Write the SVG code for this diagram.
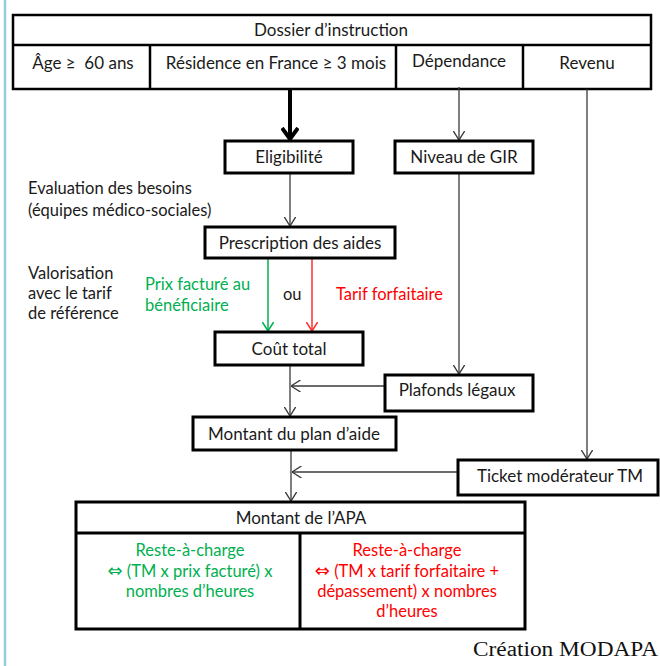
<svg xmlns="http://www.w3.org/2000/svg" width="660" height="666" viewBox="0 0 660 666">
<defs>
<style>
text{font-family:Lato,"Open Sans","Liberation Sans",sans-serif;font-size:16.5px;fill:#1a1a1a}
.b{font-size:17px}
.c{text-anchor:middle}
.g{fill:#00b050}
.r{fill:#ff0000}
.sym{font-family:"DejaVu Sans",sans-serif;font-size:18px}
.box{fill:#fff;stroke:#000;stroke-width:3}
.tbl{fill:none;stroke:#000;stroke-width:2.5}
.ln{fill:none;stroke:#3a3a3a;stroke-width:1.3}
.gl{fill:none;stroke:#00b050;stroke-width:1.5}
.rl{fill:none;stroke:#ff3030;stroke-width:1.5}
.serif{font-family:"Liberation Serif","DejaVu Serif",serif;font-size:20px;fill:#111}
</style>
<marker id="a" viewBox="0 0 10 12" refX="9.5" refY="6" markerWidth="10" markerHeight="12" markerUnits="userSpaceOnUse" orient="auto">
<path d="M0,0 L9.5,6 L0,12" fill="none" stroke="#3a3a3a" stroke-width="1.4"/>
</marker>
<marker id="ag" viewBox="0 0 10 12" refX="9.5" refY="6" markerWidth="10" markerHeight="12" markerUnits="userSpaceOnUse" orient="auto">
<path d="M0,0 L9.5,6 L0,12" fill="none" stroke="#00b050" stroke-width="1.5"/>
</marker>
<marker id="ar" viewBox="0 0 10 12" refX="9.5" refY="6" markerWidth="10" markerHeight="12" markerUnits="userSpaceOnUse" orient="auto">
<path d="M0,0 L9.5,6 L0,12" fill="none" stroke="#ff3030" stroke-width="1.5"/>
</marker>
<marker id="at" viewBox="0 0 14 18" refX="12" refY="9" markerWidth="14" markerHeight="18" markerUnits="userSpaceOnUse" orient="auto">
<path d="M1,1 L12,9 L1,17" fill="none" stroke="#000" stroke-width="4"/>
</marker>
</defs>
<rect width="660" height="666" fill="#fff"/>
<line x1="5" y1="0" x2="5" y2="666" stroke="#92cddc" stroke-width="2.5"/>

<g id="dossier">
<rect class="tbl" x="13" y="15" width="638" height="74" stroke-width="3"/>
<line class="tbl" x1="13" y1="45" x2="651" y2="45"/>
<line class="tbl" x1="150" y1="45" x2="150" y2="89"/>
<line class="tbl" x1="396" y1="45" x2="396" y2="89"/>
<line class="tbl" x1="523" y1="45" x2="523" y2="89"/>
<text class="c b" x="331" y="36">Dossier d’instruction</text>
<text class="c b" x="83" y="69">Âge ≥ &#160;60 ans</text>
<text class="c b" x="276" y="69">Résidence en France ≥ 3 mois</text>
<text class="c b" x="459" y="67">Dépendance</text>
<text class="c b" x="587" y="69">Revenu</text>
</g>

<g id="connectors">
<line x1="290" y1="89" x2="290" y2="139" stroke="#000" stroke-width="4" marker-end="url(#at)"/>
<line class="ln" x1="459" y1="87" x2="459" y2="140" marker-end="url(#a)"/>
<line class="ln" x1="587" y1="89" x2="587" y2="459" marker-end="url(#a)"/>
<line class="ln" x1="290" y1="173" x2="290" y2="226" marker-end="url(#a)"/>
<line class="gl" x1="268" y1="258" x2="268" y2="331" marker-end="url(#ag)"/>
<line class="rl" x1="312" y1="258" x2="312" y2="331" marker-end="url(#ar)"/>
<line class="ln" x1="459" y1="173" x2="459" y2="374" marker-end="url(#a)"/>
<line class="ln" x1="290" y1="365" x2="290" y2="416" marker-end="url(#a)"/>
<line class="ln" x1="385" y1="386" x2="291" y2="386" marker-end="url(#a)"/>
<line class="ln" x1="291" y1="450" x2="291" y2="501" marker-end="url(#a)"/>
<line class="ln" x1="458" y1="472" x2="292" y2="472" marker-end="url(#a)"/>
</g>

<g id="eligibilite">
<rect class="box" x="225" y="141" width="128" height="32"/>
<text class="c b" x="289" y="163">Eligibilité</text>
</g>
<g id="gir">
<rect class="box" x="395" y="141" width="138" height="32"/>
<text class="c b" x="464" y="163">Niveau de GIR</text>
</g>
<g id="evaluation">
<text x="28" y="194">Evaluation des besoins</text>
<text x="28" y="216">(équipes médico-sociales)</text>
</g>
<g id="prescription">
<rect class="box" x="205" y="227" width="190" height="31"/>
<text class="c b" x="300" y="249">Prescription des aides</text>
</g>
<g id="valorisation">
<text x="28" y="279">Valorisation</text>
<text x="28" y="299">avec le tarif</text>
<text x="28" y="319">de référence</text>
<text class="g" x="145" y="290">Prix facturé au</text>
<text class="g" x="145" y="311">bénéficiaire</text>
<text x="283" y="300">ou</text>
<text class="r" x="336" y="300">Tarif forfaitaire</text>
</g>
<g id="cout">
<rect class="box" x="215" y="332" width="148" height="33"/>
<text class="c b" x="289" y="355">Coût total</text>
</g>
<g id="plafonds">
<rect class="box" x="385" y="375" width="148" height="36"/>
<text class="c b" x="457" y="396">Plafonds légaux</text>
</g>
<g id="plan">
<rect class="box" x="193" y="417" width="203" height="33"/>
<text class="c b" x="294" y="440">Montant du plan d’aide</text>
</g>
<g id="ticket">
<rect class="box" x="458" y="460" width="200" height="35"/>
<text class="c b" x="560" y="482">Ticket modérateur TM</text>
</g>
<g id="apa">
<rect class="box" x="76" y="502" width="449" height="127"/>
<line x1="76" y1="533" x2="525" y2="533" stroke="#000" stroke-width="3"/>
<line x1="300" y1="533" x2="300" y2="629" stroke="#000" stroke-width="3"/>
<text class="c b" x="301" y="524">Montant de l’APA</text>
<text class="c g" x="190" y="556">Reste-à-charge</text>
<text class="c g" x="190" y="577"><tspan class="sym">⇔</tspan> (TM x prix facturé) x</text>
<text class="c g" x="190" y="597">nombres d’heures</text>
<text class="c r" x="407" y="556">Reste-à-charge</text>
<text class="c r" x="407" y="577"><tspan class="sym">⇔</tspan> (TM x tarif forfaitaire +</text>
<text class="c r" x="407" y="597">dépassement) x nombres</text>
<text class="c r" x="407" y="617">d’heures</text>
</g>
<text class="serif" x="658" y="656" text-anchor="end" textLength="185" lengthAdjust="spacingAndGlyphs">Création MODAPA</text>
</svg>
